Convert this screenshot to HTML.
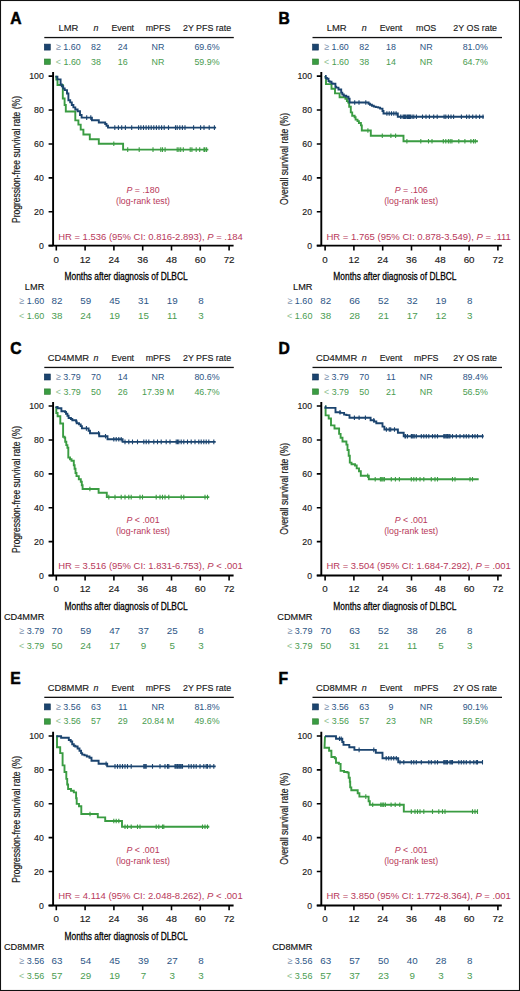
<!DOCTYPE html>
<html><head><meta charset="utf-8"><style>
html,body{margin:0;padding:0;background:#fff;}
svg{display:block;font-family:"Liberation Sans", sans-serif;}
</style></head><body>
<svg width="520" height="991" viewBox="0 0 520 991">
<rect x="0" y="0" width="520" height="991" fill="#fff"/>
<g transform="translate(0.00,0.00)">
<text transform="translate(10.30,23.90) scale(0.9,1)" font-size="17.4" fill="#000" font-weight="bold" stroke="#000" stroke-width="0.55">A</text>
<text transform="translate(68.40,31.10) scale(0.97,1)" font-size="9.7" fill="#1a1a1a" text-anchor="middle" stroke="#1a1a1a" stroke-width="0.15">LMR</text>
<text transform="translate(96.00,31.10) scale(0.915,1)" font-size="9.7" fill="#1a1a1a" text-anchor="middle" font-style="italic" stroke="#1a1a1a" stroke-width="0.15">n</text>
<text transform="translate(122.75,31.10) scale(0.915,1)" font-size="9.7" fill="#1a1a1a" text-anchor="middle" stroke="#1a1a1a" stroke-width="0.15">Event</text>
<text transform="translate(158.00,31.10) scale(0.915,1)" font-size="9.7" fill="#1a1a1a" text-anchor="middle" stroke="#1a1a1a" stroke-width="0.15">mPFS</text>
<text transform="translate(207.00,31.10) scale(0.915,1)" font-size="9.7" fill="#1a1a1a" text-anchor="middle" stroke="#1a1a1a" stroke-width="0.15">2Y PFS rate</text>
<rect x="44.3" y="36.9" width="189.5" height="1.3" fill="#111"/>
<rect x="44.3" y="44.1" width="6.0" height="6.0" fill="#1b446f" stroke="#123456" stroke-width="0.6"/>
<text transform="translate(68.30,50.00) scale(0.915,1)" font-size="9.7" fill="#2c5585" text-anchor="middle"><tspan fill="#7f95b0">≥</tspan> 1.60</text>
<text transform="translate(96.00,50.00) scale(0.915,1)" font-size="9.7" fill="#2c5585" text-anchor="middle">82</text>
<text transform="translate(122.75,50.00) scale(0.915,1)" font-size="9.7" fill="#2c5585" text-anchor="middle">24</text>
<text transform="translate(158.00,50.00) scale(0.915,1)" font-size="9.7" fill="#2c5585" text-anchor="middle">NR</text>
<text transform="translate(207.00,50.00) scale(0.915,1)" font-size="9.7" fill="#2c5585" text-anchor="middle">69.6%</text>
<rect x="44.3" y="59.0" width="6.0" height="5.4" fill="#3a9c42" stroke="#2c7a30" stroke-width="0.6"/>
<text transform="translate(68.30,64.60) scale(0.915,1)" font-size="9.7" fill="#4a9c50" text-anchor="middle"><tspan fill="#8fbf92">&lt;</tspan> 1.60</text>
<text transform="translate(96.00,64.60) scale(0.915,1)" font-size="9.7" fill="#4a9c50" text-anchor="middle">38</text>
<text transform="translate(122.75,64.60) scale(0.915,1)" font-size="9.7" fill="#4a9c50" text-anchor="middle">16</text>
<text transform="translate(158.00,64.60) scale(0.915,1)" font-size="9.7" fill="#4a9c50" text-anchor="middle">NR</text>
<text transform="translate(207.00,64.60) scale(0.915,1)" font-size="9.7" fill="#4a9c50" text-anchor="middle">59.9%</text>
<path d="M53.1 72 V246.6 M48.6 245.65 H233.6" stroke="#000" stroke-width="1.9" fill="none"/>
<text transform="translate(43.80,248.85) scale(0.97,1)" font-size="9.0" fill="#1a1a1a" text-anchor="end" stroke="#1a1a1a" stroke-width="0.15">0</text>
<text transform="translate(43.80,214.95) scale(0.97,1)" font-size="9.0" fill="#1a1a1a" text-anchor="end" stroke="#1a1a1a" stroke-width="0.15">20</text>
<text transform="translate(43.80,181.05) scale(0.97,1)" font-size="9.0" fill="#1a1a1a" text-anchor="end" stroke="#1a1a1a" stroke-width="0.15">40</text>
<text transform="translate(43.80,147.15) scale(0.97,1)" font-size="9.0" fill="#1a1a1a" text-anchor="end" stroke="#1a1a1a" stroke-width="0.15">60</text>
<text transform="translate(43.80,113.25) scale(0.97,1)" font-size="9.0" fill="#1a1a1a" text-anchor="end" stroke="#1a1a1a" stroke-width="0.15">80</text>
<text transform="translate(43.80,79.35) scale(0.97,1)" font-size="9.0" fill="#1a1a1a" text-anchor="end" stroke="#1a1a1a" stroke-width="0.15">100</text>
<text x="56.30" y="262.60" font-size="9.8" fill="#1a1a1a" text-anchor="middle" stroke="#1a1a1a" stroke-width="0.15">0</text>
<text x="85.10" y="262.60" font-size="9.8" fill="#1a1a1a" text-anchor="middle" stroke="#1a1a1a" stroke-width="0.15">12</text>
<text x="113.90" y="262.60" font-size="9.8" fill="#1a1a1a" text-anchor="middle" stroke="#1a1a1a" stroke-width="0.15">24</text>
<text x="142.70" y="262.60" font-size="9.8" fill="#1a1a1a" text-anchor="middle" stroke="#1a1a1a" stroke-width="0.15">36</text>
<text x="171.50" y="262.60" font-size="9.8" fill="#1a1a1a" text-anchor="middle" stroke="#1a1a1a" stroke-width="0.15">48</text>
<text x="200.30" y="262.60" font-size="9.8" fill="#1a1a1a" text-anchor="middle" stroke="#1a1a1a" stroke-width="0.15">60</text>
<text x="229.10" y="262.60" font-size="9.8" fill="#1a1a1a" text-anchor="middle" stroke="#1a1a1a" stroke-width="0.15">72</text>
<path d="M48.6 245.65 H53.1 M48.6 211.75 H53.1 M48.6 177.85 H53.1 M48.6 143.95 H53.1 M48.6 110.05 H53.1 M48.6 76.15 H53.1 M56.30 245.7 V250.5 M85.10 245.7 V250.5 M113.90 245.7 V250.5 M142.70 245.7 V250.5 M171.50 245.7 V250.5 M200.30 245.7 V250.5 M229.10 245.7 V250.5" stroke="#000" stroke-width="1.6" fill="none"/>
<text transform="translate(19.6,159.5) rotate(-90)" font-size="10.8" text-anchor="middle" textLength="127" lengthAdjust="spacingAndGlyphs" fill="#1a1a1a" stroke="#1a1a1a" stroke-width="0.2">Progression-free survival rate (%)</text>
<text x="64.5" y="280.1" font-size="11.8" textLength="123.2" lengthAdjust="spacingAndGlyphs" fill="#000" stroke="#000" stroke-width="0.3">Months after diagnosis of DLBCL</text>
<polyline transform="translate(0,0.0)" points="56.30,75.70 56.30,79.50 57.50,79.50 57.50,85.00 62.80,85.00 62.80,98.50 64.60,98.50 64.60,105.00 65.80,105.00 65.80,111.50 75.30,111.50 75.30,120.40 78.40,120.40 78.40,124.60 80.70,124.60 80.70,129.60 83.40,129.60 83.40,134.50 89.80,134.50 89.80,139.20 98.80,139.20 98.80,143.80 123.10,143.80 123.10,149.60 208.30,149.60" fill="none" stroke="#3a9c42" stroke-width="1.9" stroke-linejoin="miter"/>
<path d="M113.8 141.5v4.6 M127.7 147.3v4.6 M139.2 147.3v4.6 M153.0 147.3v4.6 M160.8 147.3v4.6 M162.5 147.3v4.6 M165.1 147.3v4.6 M177.2 147.3v4.6 M178.9 147.3v4.6 M180.7 147.3v4.6 M183.3 147.3v4.6 M190.2 147.3v4.6 M191.9 147.3v4.6 M196.2 147.3v4.6 M199.7 147.3v4.6 M204.0 147.3v4.6 M204.9 147.3v4.6 M206.6 147.3v4.6" stroke="#3a9c42" stroke-width="1.1"/>
<polyline transform="translate(0,0.0)" points="56.30,75.70 56.30,76.60 57.40,76.60 57.40,79.40 60.60,79.40 60.60,84.50 61.80,84.50 61.80,86.20 63.20,86.20 63.20,88.50 64.70,88.50 64.70,90.10 67.00,90.10 67.00,93.50 68.40,93.50 68.40,100.20 70.20,100.20 70.20,102.40 71.80,102.40 71.80,105.00 73.40,105.00 73.40,107.40 75.30,107.40 75.30,109.50 77.60,109.50 77.60,111.30 80.00,111.30 80.00,115.00 81.60,115.00 81.60,117.60 91.90,117.60 91.90,120.20 98.80,120.20 98.80,122.50 105.20,122.50 105.20,124.00 106.50,124.00 106.50,125.70 108.00,125.70 108.00,127.60 216.10,127.60" fill="none" stroke="#1b446f" stroke-width="1.9" stroke-linejoin="miter"/>
<path d="M86.7 115.3v4.6 M90.8 115.3v4.6 M114.8 125.3v4.6 M118.4 125.3v4.6 M121.7 125.3v4.6 M125.4 125.3v4.6 M131.7 125.3v4.6 M138.6 125.3v4.6 M140.9 125.3v4.6 M143.5 125.3v4.6 M146.1 125.3v4.6 M148.7 125.3v4.6 M151.2 125.3v4.6 M153.8 125.3v4.6 M156.4 125.3v4.6 M159.0 125.3v4.6 M161.6 125.3v4.6 M164.2 125.3v4.6 M168.5 125.3v4.6 M175.5 125.3v4.6 M177.2 125.3v4.6 M179.8 125.3v4.6 M182.4 125.3v4.6 M185.0 125.3v4.6 M193.6 125.3v4.6 M200.6 125.3v4.6 M204.0 125.3v4.6 M209.2 125.3v4.6 M214.4 125.3v4.6" stroke="#1b446f" stroke-width="1.1"/>
<text transform="translate(143.0,193.0) scale(0.95,1)" font-size="9.3" text-anchor="middle" fill="#b8385a"><tspan font-style="italic">P</tspan> = .180</text>
<text transform="translate(143.00,204.00) scale(0.975,1)" font-size="9.0" fill="#b8385a" text-anchor="middle">(log-rank test)</text>
<text x="58.2" y="239.5" font-size="9.3" textLength="184.5" lengthAdjust="spacingAndGlyphs" fill="#b8385a">HR = 1.536 (95% CI: 0.816-2.893), <tspan font-style="italic">P</tspan> = .184</text>
<text transform="translate(44.30,289.80) scale(0.93,1)" font-size="9.9" fill="#111" text-anchor="end" stroke="#111" stroke-width="0.15">LMR</text>
<text transform="translate(44.20,304.40) scale(0.95,1)" font-size="9.5" fill="#2c5585" text-anchor="end"><tspan fill="#7f95b0">≥</tspan> 1.60</text>
<text x="57.00" y="304.40" font-size="9.8" fill="#2c5585" text-anchor="middle">82</text>
<text x="85.80" y="304.40" font-size="9.8" fill="#2c5585" text-anchor="middle">59</text>
<text x="114.60" y="304.40" font-size="9.8" fill="#2c5585" text-anchor="middle">45</text>
<text x="143.40" y="304.40" font-size="9.8" fill="#2c5585" text-anchor="middle">31</text>
<text x="172.20" y="304.40" font-size="9.8" fill="#2c5585" text-anchor="middle">19</text>
<text x="201.00" y="304.40" font-size="9.8" fill="#2c5585" text-anchor="middle">8</text>
<text transform="translate(44.20,319.10) scale(0.95,1)" font-size="9.5" fill="#4a9c50" text-anchor="end"><tspan fill="#8fbf92">&lt;</tspan> 1.60</text>
<text x="57.00" y="319.10" font-size="9.8" fill="#4a9c50" text-anchor="middle">38</text>
<text x="85.80" y="319.10" font-size="9.8" fill="#4a9c50" text-anchor="middle">24</text>
<text x="114.60" y="319.10" font-size="9.8" fill="#4a9c50" text-anchor="middle">19</text>
<text x="143.40" y="319.10" font-size="9.8" fill="#4a9c50" text-anchor="middle">15</text>
<text x="172.20" y="319.10" font-size="9.8" fill="#4a9c50" text-anchor="middle">11</text>
<text x="201.00" y="319.10" font-size="9.8" fill="#4a9c50" text-anchor="middle">3</text>
</g>
<g transform="translate(268.20,0.00)">
<text transform="translate(10.30,23.90) scale(0.9,1)" font-size="17.4" fill="#000" font-weight="bold" stroke="#000" stroke-width="0.55">B</text>
<text transform="translate(68.40,31.10) scale(0.97,1)" font-size="9.7" fill="#1a1a1a" text-anchor="middle" stroke="#1a1a1a" stroke-width="0.15">LMR</text>
<text transform="translate(96.00,31.10) scale(0.915,1)" font-size="9.7" fill="#1a1a1a" text-anchor="middle" font-style="italic" stroke="#1a1a1a" stroke-width="0.15">n</text>
<text transform="translate(122.75,31.10) scale(0.915,1)" font-size="9.7" fill="#1a1a1a" text-anchor="middle" stroke="#1a1a1a" stroke-width="0.15">Event</text>
<text transform="translate(158.00,31.10) scale(0.915,1)" font-size="9.7" fill="#1a1a1a" text-anchor="middle" stroke="#1a1a1a" stroke-width="0.15">mOS</text>
<text transform="translate(207.00,31.10) scale(0.915,1)" font-size="9.7" fill="#1a1a1a" text-anchor="middle" stroke="#1a1a1a" stroke-width="0.15">2Y OS rate</text>
<rect x="44.3" y="36.9" width="189.5" height="1.3" fill="#111"/>
<rect x="44.3" y="44.1" width="6.0" height="6.0" fill="#1b446f" stroke="#123456" stroke-width="0.6"/>
<text transform="translate(68.30,50.00) scale(0.915,1)" font-size="9.7" fill="#2c5585" text-anchor="middle"><tspan fill="#7f95b0">≥</tspan> 1.60</text>
<text transform="translate(96.00,50.00) scale(0.915,1)" font-size="9.7" fill="#2c5585" text-anchor="middle">82</text>
<text transform="translate(122.75,50.00) scale(0.915,1)" font-size="9.7" fill="#2c5585" text-anchor="middle">18</text>
<text transform="translate(158.00,50.00) scale(0.915,1)" font-size="9.7" fill="#2c5585" text-anchor="middle">NR</text>
<text transform="translate(207.00,50.00) scale(0.915,1)" font-size="9.7" fill="#2c5585" text-anchor="middle">81.0%</text>
<rect x="44.3" y="59.0" width="6.0" height="5.4" fill="#3a9c42" stroke="#2c7a30" stroke-width="0.6"/>
<text transform="translate(68.30,64.60) scale(0.915,1)" font-size="9.7" fill="#4a9c50" text-anchor="middle"><tspan fill="#8fbf92">&lt;</tspan> 1.60</text>
<text transform="translate(96.00,64.60) scale(0.915,1)" font-size="9.7" fill="#4a9c50" text-anchor="middle">38</text>
<text transform="translate(122.75,64.60) scale(0.915,1)" font-size="9.7" fill="#4a9c50" text-anchor="middle">14</text>
<text transform="translate(158.00,64.60) scale(0.915,1)" font-size="9.7" fill="#4a9c50" text-anchor="middle">NR</text>
<text transform="translate(207.00,64.60) scale(0.915,1)" font-size="9.7" fill="#4a9c50" text-anchor="middle">64.7%</text>
<path d="M53.1 72 V246.6 M48.6 245.65 H233.6" stroke="#000" stroke-width="1.9" fill="none"/>
<text transform="translate(43.80,248.85) scale(0.97,1)" font-size="9.0" fill="#1a1a1a" text-anchor="end" stroke="#1a1a1a" stroke-width="0.15">0</text>
<text transform="translate(43.80,214.95) scale(0.97,1)" font-size="9.0" fill="#1a1a1a" text-anchor="end" stroke="#1a1a1a" stroke-width="0.15">20</text>
<text transform="translate(43.80,181.05) scale(0.97,1)" font-size="9.0" fill="#1a1a1a" text-anchor="end" stroke="#1a1a1a" stroke-width="0.15">40</text>
<text transform="translate(43.80,147.15) scale(0.97,1)" font-size="9.0" fill="#1a1a1a" text-anchor="end" stroke="#1a1a1a" stroke-width="0.15">60</text>
<text transform="translate(43.80,113.25) scale(0.97,1)" font-size="9.0" fill="#1a1a1a" text-anchor="end" stroke="#1a1a1a" stroke-width="0.15">80</text>
<text transform="translate(43.80,79.35) scale(0.97,1)" font-size="9.0" fill="#1a1a1a" text-anchor="end" stroke="#1a1a1a" stroke-width="0.15">100</text>
<text x="56.90" y="262.60" font-size="9.8" fill="#1a1a1a" text-anchor="middle" stroke="#1a1a1a" stroke-width="0.15">0</text>
<text x="85.70" y="262.60" font-size="9.8" fill="#1a1a1a" text-anchor="middle" stroke="#1a1a1a" stroke-width="0.15">12</text>
<text x="114.50" y="262.60" font-size="9.8" fill="#1a1a1a" text-anchor="middle" stroke="#1a1a1a" stroke-width="0.15">24</text>
<text x="143.30" y="262.60" font-size="9.8" fill="#1a1a1a" text-anchor="middle" stroke="#1a1a1a" stroke-width="0.15">36</text>
<text x="172.10" y="262.60" font-size="9.8" fill="#1a1a1a" text-anchor="middle" stroke="#1a1a1a" stroke-width="0.15">48</text>
<text x="200.90" y="262.60" font-size="9.8" fill="#1a1a1a" text-anchor="middle" stroke="#1a1a1a" stroke-width="0.15">60</text>
<text x="229.70" y="262.60" font-size="9.8" fill="#1a1a1a" text-anchor="middle" stroke="#1a1a1a" stroke-width="0.15">72</text>
<path d="M48.6 245.65 H53.1 M48.6 211.75 H53.1 M48.6 177.85 H53.1 M48.6 143.95 H53.1 M48.6 110.05 H53.1 M48.6 76.15 H53.1 M56.90 245.7 V250.5 M85.70 245.7 V250.5 M114.50 245.7 V250.5 M143.30 245.7 V250.5 M172.10 245.7 V250.5 M200.90 245.7 V250.5 M229.70 245.7 V250.5" stroke="#000" stroke-width="1.6" fill="none"/>
<text transform="translate(20.0,158.9) rotate(-90)" font-size="10.8" text-anchor="middle" textLength="92" lengthAdjust="spacingAndGlyphs" fill="#1a1a1a" stroke="#1a1a1a" stroke-width="0.2">Overall survival rate (%)</text>
<text x="65.1" y="280.1" font-size="11.8" textLength="123.2" lengthAdjust="spacingAndGlyphs" fill="#000" stroke="#000" stroke-width="0.3">Months after diagnosis of DLBCL</text>
<polyline transform="translate(0,0.3)" points="56.80,75.70 57.80,77.70 57.80,83.80 63.30,83.80 63.30,88.50 66.80,88.50 66.80,93.10 71.40,93.10 71.40,96.90 77.20,96.90 77.20,98.50 78.70,98.50 78.70,100.80 80.00,100.80 80.00,102.30 81.00,102.30 81.00,106.50 82.60,106.50 82.60,112.10 84.00,112.10 84.00,115.50 86.40,115.50 86.40,117.00 87.40,117.00 87.40,119.30 89.30,119.30 89.30,120.80 90.70,120.80 90.70,122.70 92.70,122.70 92.70,125.10 93.60,125.10 93.60,130.20 102.60,130.20 102.60,135.40 135.30,135.40 135.30,141.00 209.70,141.00" fill="none" stroke="#3a9c42" stroke-width="1.9" stroke-linejoin="miter"/>
<path d="M99.7 128.2v4.6 M114.1 133.4v4.6 M122.7 133.4v4.6 M127.4 133.4v4.6 M138.7 139.0v4.6 M152.6 139.0v4.6 M160.3 139.0v4.6 M163.8 139.0v4.6 M175.1 139.0v4.6 M177.6 139.0v4.6 M180.2 139.0v4.6 M182.0 139.0v4.6 M183.7 139.0v4.6 M190.6 139.0v4.6 M196.7 139.0v4.6 M202.7 139.0v4.6 M205.3 139.0v4.6 M207.1 139.0v4.6" stroke="#3a9c42" stroke-width="1.1"/>
<polyline transform="translate(0,0.3)" points="56.80,75.70 57.50,75.70 57.50,77.70 58.70,77.70 58.70,78.50 60.30,78.50 60.30,80.80 61.40,80.80 61.40,81.50 63.30,81.50 63.30,83.10 64.50,83.10 64.50,83.50 67.20,83.50 67.20,86.50 68.00,86.50 68.00,87.30 70.30,87.30 70.30,89.20 73.00,89.20 73.00,92.30 74.10,92.30 74.10,94.20 75.60,94.20 75.60,95.40 78.00,95.40 78.00,96.50 80.30,96.50 80.30,98.50 81.40,98.50 81.40,102.20 100.40,102.20 100.40,103.50 101.80,103.50 101.80,104.40 103.70,104.40 103.70,105.40 105.60,105.40 105.60,106.30 107.60,106.30 107.60,106.80 110.00,106.80 110.00,107.30 111.90,107.30 111.90,108.30 114.30,108.30 114.30,110.70 115.30,110.70 115.30,113.20 129.60,113.20 129.60,116.40 215.70,116.40" fill="none" stroke="#1b446f" stroke-width="1.9" stroke-linejoin="miter"/>
<path d="M86.5 100.2v4.6 M90.8 100.2v4.6 M97.6 100.2v4.6 M118.7 111.2v4.6 M121.0 111.2v4.6 M123.3 111.2v4.6 M125.6 111.2v4.6 M127.9 111.2v4.6 M132.5 114.4v4.6 M134.9 114.4v4.6 M137.2 114.4v4.6 M139.5 114.4v4.6 M141.2 114.4v4.6 M132.7 114.4v4.6 M136.1 114.4v4.6 M138.7 114.4v4.6 M140.5 114.4v4.6 M142.2 114.4v4.6 M143.9 114.4v4.6 M145.6 114.4v4.6 M148.2 114.4v4.6 M154.3 114.4v4.6 M157.8 114.4v4.6 M161.2 114.4v4.6 M165.5 114.4v4.6 M169.0 114.4v4.6 M175.9 114.4v4.6 M177.6 114.4v4.6 M180.2 114.4v4.6 M182.8 114.4v4.6 M185.4 114.4v4.6 M193.2 114.4v4.6 M198.4 114.4v4.6 M201.0 114.4v4.6 M204.5 114.4v4.6 M207.9 114.4v4.6 M211.4 114.4v4.6 M214.8 114.4v4.6" stroke="#1b446f" stroke-width="1.1"/>
<text transform="translate(143.0,193.0) scale(0.95,1)" font-size="9.3" text-anchor="middle" fill="#b8385a"><tspan font-style="italic">P</tspan> = .106</text>
<text transform="translate(143.00,204.00) scale(0.975,1)" font-size="9.0" fill="#b8385a" text-anchor="middle">(log-rank test)</text>
<text x="58.2" y="239.5" font-size="9.3" textLength="184.5" lengthAdjust="spacingAndGlyphs" fill="#b8385a">HR = 1.765 (95% CI: 0.878-3.549), <tspan font-style="italic">P</tspan> = .111</text>
<text transform="translate(44.30,289.80) scale(0.93,1)" font-size="9.9" fill="#111" text-anchor="end" stroke="#111" stroke-width="0.15">LMR</text>
<text transform="translate(44.20,304.40) scale(0.95,1)" font-size="9.5" fill="#2c5585" text-anchor="end"><tspan fill="#7f95b0">≥</tspan> 1.60</text>
<text x="57.60" y="304.40" font-size="9.8" fill="#2c5585" text-anchor="middle">82</text>
<text x="86.40" y="304.40" font-size="9.8" fill="#2c5585" text-anchor="middle">66</text>
<text x="115.20" y="304.40" font-size="9.8" fill="#2c5585" text-anchor="middle">52</text>
<text x="144.00" y="304.40" font-size="9.8" fill="#2c5585" text-anchor="middle">32</text>
<text x="172.80" y="304.40" font-size="9.8" fill="#2c5585" text-anchor="middle">19</text>
<text x="201.60" y="304.40" font-size="9.8" fill="#2c5585" text-anchor="middle">8</text>
<text transform="translate(44.20,319.10) scale(0.95,1)" font-size="9.5" fill="#4a9c50" text-anchor="end"><tspan fill="#8fbf92">&lt;</tspan> 1.60</text>
<text x="57.60" y="319.10" font-size="9.8" fill="#4a9c50" text-anchor="middle">38</text>
<text x="86.40" y="319.10" font-size="9.8" fill="#4a9c50" text-anchor="middle">28</text>
<text x="115.20" y="319.10" font-size="9.8" fill="#4a9c50" text-anchor="middle">21</text>
<text x="144.00" y="319.10" font-size="9.8" fill="#4a9c50" text-anchor="middle">17</text>
<text x="172.80" y="319.10" font-size="9.8" fill="#4a9c50" text-anchor="middle">12</text>
<text x="201.60" y="319.10" font-size="9.8" fill="#4a9c50" text-anchor="middle">3</text>
</g>
<g transform="translate(0.00,329.90)">
<text transform="translate(10.30,23.90) scale(0.9,1)" font-size="17.4" fill="#000" font-weight="bold" stroke="#000" stroke-width="0.55">C</text>
<text transform="translate(68.40,31.10) scale(0.97,1)" font-size="9.7" fill="#1a1a1a" text-anchor="middle" stroke="#1a1a1a" stroke-width="0.15">CD4MMR</text>
<text transform="translate(96.00,31.10) scale(0.915,1)" font-size="9.7" fill="#1a1a1a" text-anchor="middle" font-style="italic" stroke="#1a1a1a" stroke-width="0.15">n</text>
<text transform="translate(122.75,31.10) scale(0.915,1)" font-size="9.7" fill="#1a1a1a" text-anchor="middle" stroke="#1a1a1a" stroke-width="0.15">Event</text>
<text transform="translate(158.00,31.10) scale(0.915,1)" font-size="9.7" fill="#1a1a1a" text-anchor="middle" stroke="#1a1a1a" stroke-width="0.15">mPFS</text>
<text transform="translate(207.00,31.10) scale(0.915,1)" font-size="9.7" fill="#1a1a1a" text-anchor="middle" stroke="#1a1a1a" stroke-width="0.15">2Y PFS rate</text>
<rect x="44.3" y="36.9" width="189.5" height="1.3" fill="#111"/>
<rect x="44.3" y="44.1" width="6.0" height="6.0" fill="#1b446f" stroke="#123456" stroke-width="0.6"/>
<text transform="translate(68.30,50.00) scale(0.915,1)" font-size="9.7" fill="#2c5585" text-anchor="middle"><tspan fill="#7f95b0">≥</tspan> 3.79</text>
<text transform="translate(96.00,50.00) scale(0.915,1)" font-size="9.7" fill="#2c5585" text-anchor="middle">70</text>
<text transform="translate(122.75,50.00) scale(0.915,1)" font-size="9.7" fill="#2c5585" text-anchor="middle">14</text>
<text transform="translate(158.00,50.00) scale(0.915,1)" font-size="9.7" fill="#2c5585" text-anchor="middle">NR</text>
<text transform="translate(207.00,50.00) scale(0.915,1)" font-size="9.7" fill="#2c5585" text-anchor="middle">80.6%</text>
<rect x="44.3" y="59.0" width="6.0" height="5.4" fill="#3a9c42" stroke="#2c7a30" stroke-width="0.6"/>
<text transform="translate(68.30,64.60) scale(0.915,1)" font-size="9.7" fill="#4a9c50" text-anchor="middle"><tspan fill="#8fbf92">&lt;</tspan> 3.79</text>
<text transform="translate(96.00,64.60) scale(0.915,1)" font-size="9.7" fill="#4a9c50" text-anchor="middle">50</text>
<text transform="translate(122.75,64.60) scale(0.915,1)" font-size="9.7" fill="#4a9c50" text-anchor="middle">26</text>
<text transform="translate(158.00,64.60) scale(0.915,1)" font-size="9.7" fill="#4a9c50" text-anchor="middle">17.39 M</text>
<text transform="translate(207.00,64.60) scale(0.915,1)" font-size="9.7" fill="#4a9c50" text-anchor="middle">46.7%</text>
<path d="M53.1 72 V246.6 M48.6 245.65 H233.6" stroke="#000" stroke-width="1.9" fill="none"/>
<text transform="translate(43.80,248.85) scale(0.97,1)" font-size="9.0" fill="#1a1a1a" text-anchor="end" stroke="#1a1a1a" stroke-width="0.15">0</text>
<text transform="translate(43.80,214.95) scale(0.97,1)" font-size="9.0" fill="#1a1a1a" text-anchor="end" stroke="#1a1a1a" stroke-width="0.15">20</text>
<text transform="translate(43.80,181.05) scale(0.97,1)" font-size="9.0" fill="#1a1a1a" text-anchor="end" stroke="#1a1a1a" stroke-width="0.15">40</text>
<text transform="translate(43.80,147.15) scale(0.97,1)" font-size="9.0" fill="#1a1a1a" text-anchor="end" stroke="#1a1a1a" stroke-width="0.15">60</text>
<text transform="translate(43.80,113.25) scale(0.97,1)" font-size="9.0" fill="#1a1a1a" text-anchor="end" stroke="#1a1a1a" stroke-width="0.15">80</text>
<text transform="translate(43.80,79.35) scale(0.97,1)" font-size="9.0" fill="#1a1a1a" text-anchor="end" stroke="#1a1a1a" stroke-width="0.15">100</text>
<text x="56.30" y="262.60" font-size="9.8" fill="#1a1a1a" text-anchor="middle" stroke="#1a1a1a" stroke-width="0.15">0</text>
<text x="85.10" y="262.60" font-size="9.8" fill="#1a1a1a" text-anchor="middle" stroke="#1a1a1a" stroke-width="0.15">12</text>
<text x="113.90" y="262.60" font-size="9.8" fill="#1a1a1a" text-anchor="middle" stroke="#1a1a1a" stroke-width="0.15">24</text>
<text x="142.70" y="262.60" font-size="9.8" fill="#1a1a1a" text-anchor="middle" stroke="#1a1a1a" stroke-width="0.15">36</text>
<text x="171.50" y="262.60" font-size="9.8" fill="#1a1a1a" text-anchor="middle" stroke="#1a1a1a" stroke-width="0.15">48</text>
<text x="200.30" y="262.60" font-size="9.8" fill="#1a1a1a" text-anchor="middle" stroke="#1a1a1a" stroke-width="0.15">60</text>
<text x="229.10" y="262.60" font-size="9.8" fill="#1a1a1a" text-anchor="middle" stroke="#1a1a1a" stroke-width="0.15">72</text>
<path d="M48.6 245.65 H53.1 M48.6 211.75 H53.1 M48.6 177.85 H53.1 M48.6 143.95 H53.1 M48.6 110.05 H53.1 M48.6 76.15 H53.1 M56.30 245.7 V250.5 M85.10 245.7 V250.5 M113.90 245.7 V250.5 M142.70 245.7 V250.5 M171.50 245.7 V250.5 M200.30 245.7 V250.5 M229.10 245.7 V250.5" stroke="#000" stroke-width="1.6" fill="none"/>
<text transform="translate(19.6,159.5) rotate(-90)" font-size="10.8" text-anchor="middle" textLength="127" lengthAdjust="spacingAndGlyphs" fill="#1a1a1a" stroke="#1a1a1a" stroke-width="0.2">Progression-free survival rate (%)</text>
<text x="64.5" y="280.1" font-size="11.8" textLength="123.2" lengthAdjust="spacingAndGlyphs" fill="#000" stroke="#000" stroke-width="0.3">Months after diagnosis of DLBCL</text>
<polyline transform="translate(0,0.8)" points="56.30,75.70 56.30,82.30 57.60,82.30 57.60,85.60 60.30,85.60 60.30,92.80 63.10,92.80 63.10,106.10 64.50,106.10 64.50,107.00 65.20,107.00 65.20,111.00 66.30,111.00 66.30,114.40 67.40,114.40 67.40,117.00 68.30,117.00 68.30,126.80 70.00,126.80 70.00,128.50 71.50,128.50 71.50,130.00 73.80,130.00 73.80,134.60 74.60,134.60 74.60,138.00 75.50,138.00 75.50,142.30 76.50,142.30 76.50,145.40 78.80,145.40 78.80,148.50 80.80,148.50 80.80,151.00 81.80,151.00 81.80,154.60 82.60,154.60 82.60,158.30 98.60,158.30 98.60,162.00 106.80,162.00 106.80,166.40 209.30,166.40" fill="none" stroke="#3a9c42" stroke-width="1.9" stroke-linejoin="miter"/>
<path d="M89.9 156.8v4.6 M108.8 164.9v4.6 M115.0 164.9v4.6 M121.2 164.9v4.6 M125.0 164.9v4.6 M128.8 164.9v4.6 M131.2 164.9v4.6 M140.0 164.9v4.6 M142.5 164.9v4.6 M156.2 164.9v4.6 M160.0 164.9v4.6 M162.5 164.9v4.6 M165.0 164.9v4.6 M168.8 164.9v4.6 M181.2 164.9v4.6 M183.8 164.9v4.6 M205.0 164.9v4.6 M207.5 164.9v4.6" stroke="#3a9c42" stroke-width="1.1"/>
<polyline transform="translate(0,0.8)" points="56.30,75.70 56.30,76.30 57.60,76.30 57.60,77.50 61.40,77.50 61.40,80.50 65.10,80.50 65.10,81.30 66.00,81.30 66.00,83.00 67.40,83.00 67.40,85.00 68.60,85.00 68.60,87.30 70.90,87.30 70.90,88.30 72.30,88.30 72.30,89.60 76.10,89.60 76.10,90.80 76.70,90.80 76.70,92.50 79.00,92.50 79.00,93.70 80.70,93.70 80.70,95.40 81.90,95.40 81.90,97.70 88.60,97.70 88.60,100.00 90.00,100.00 90.00,102.50 99.20,102.50 99.20,105.60 107.50,105.60 107.50,108.60 122.60,108.60 122.60,111.20 215.70,111.20" fill="none" stroke="#1b446f" stroke-width="1.9" stroke-linejoin="miter"/>
<path d="M86.4 96.2v4.6 M98.6 101.0v4.6 M105.5 104.1v4.6 M113.8 107.1v4.6 M116.2 107.1v4.6 M118.8 107.1v4.6 M121.2 107.1v4.6 M125.0 109.7v4.6 M128.8 109.7v4.6 M132.5 109.7v4.6 M137.5 109.7v4.6 M143.8 109.7v4.6 M146.2 109.7v4.6 M148.8 109.7v4.6 M153.8 109.7v4.6 M157.5 109.7v4.6 M161.2 109.7v4.6 M166.2 109.7v4.6 M170.0 109.7v4.6 M176.2 109.7v4.6 M177.5 109.7v4.6 M178.8 109.7v4.6 M181.2 109.7v4.6 M183.8 109.7v4.6 M187.5 109.7v4.6 M191.2 109.7v4.6 M195.0 109.7v4.6 M198.8 109.7v4.6 M201.2 109.7v4.6 M203.8 109.7v4.6 M206.2 109.7v4.6 M208.8 109.7v4.6 M213.8 109.7v4.6" stroke="#1b446f" stroke-width="1.1"/>
<text transform="translate(143.0,193.0) scale(0.95,1)" font-size="9.3" text-anchor="middle" fill="#b8385a"><tspan font-style="italic">P</tspan> &lt; .001</text>
<text transform="translate(143.00,204.00) scale(0.975,1)" font-size="9.0" fill="#b8385a" text-anchor="middle">(log-rank test)</text>
<text x="58.2" y="239.5" font-size="9.3" textLength="184.5" lengthAdjust="spacingAndGlyphs" fill="#b8385a">HR = 3.516 (95% CI: 1.831-6.753), <tspan font-style="italic">P</tspan> &lt; .001</text>
<text transform="translate(44.30,289.80) scale(0.93,1)" font-size="9.9" fill="#111" text-anchor="end" stroke="#111" stroke-width="0.15">CD4MMR</text>
<text transform="translate(44.20,304.40) scale(0.95,1)" font-size="9.5" fill="#2c5585" text-anchor="end"><tspan fill="#7f95b0">≥</tspan> 3.79</text>
<text x="57.00" y="304.40" font-size="9.8" fill="#2c5585" text-anchor="middle">70</text>
<text x="85.80" y="304.40" font-size="9.8" fill="#2c5585" text-anchor="middle">59</text>
<text x="114.60" y="304.40" font-size="9.8" fill="#2c5585" text-anchor="middle">47</text>
<text x="143.40" y="304.40" font-size="9.8" fill="#2c5585" text-anchor="middle">37</text>
<text x="172.20" y="304.40" font-size="9.8" fill="#2c5585" text-anchor="middle">25</text>
<text x="201.00" y="304.40" font-size="9.8" fill="#2c5585" text-anchor="middle">8</text>
<text transform="translate(44.20,319.10) scale(0.95,1)" font-size="9.5" fill="#4a9c50" text-anchor="end"><tspan fill="#8fbf92">&lt;</tspan> 3.79</text>
<text x="57.00" y="319.10" font-size="9.8" fill="#4a9c50" text-anchor="middle">50</text>
<text x="85.80" y="319.10" font-size="9.8" fill="#4a9c50" text-anchor="middle">24</text>
<text x="114.60" y="319.10" font-size="9.8" fill="#4a9c50" text-anchor="middle">17</text>
<text x="143.40" y="319.10" font-size="9.8" fill="#4a9c50" text-anchor="middle">9</text>
<text x="172.20" y="319.10" font-size="9.8" fill="#4a9c50" text-anchor="middle">5</text>
<text x="201.00" y="319.10" font-size="9.8" fill="#4a9c50" text-anchor="middle">3</text>
</g>
<g transform="translate(268.20,329.90)">
<text transform="translate(10.30,23.90) scale(0.9,1)" font-size="17.4" fill="#000" font-weight="bold" stroke="#000" stroke-width="0.55">D</text>
<text transform="translate(68.40,31.10) scale(0.97,1)" font-size="9.7" fill="#1a1a1a" text-anchor="middle" stroke="#1a1a1a" stroke-width="0.15">CD4MMR</text>
<text transform="translate(96.00,31.10) scale(0.915,1)" font-size="9.7" fill="#1a1a1a" text-anchor="middle" font-style="italic" stroke="#1a1a1a" stroke-width="0.15">n</text>
<text transform="translate(122.75,31.10) scale(0.915,1)" font-size="9.7" fill="#1a1a1a" text-anchor="middle" stroke="#1a1a1a" stroke-width="0.15">Event</text>
<text transform="translate(158.00,31.10) scale(0.915,1)" font-size="9.7" fill="#1a1a1a" text-anchor="middle" stroke="#1a1a1a" stroke-width="0.15">mPFS</text>
<text transform="translate(207.00,31.10) scale(0.915,1)" font-size="9.7" fill="#1a1a1a" text-anchor="middle" stroke="#1a1a1a" stroke-width="0.15">2Y OS rate</text>
<rect x="44.3" y="36.9" width="189.5" height="1.3" fill="#111"/>
<rect x="44.3" y="44.1" width="6.0" height="6.0" fill="#1b446f" stroke="#123456" stroke-width="0.6"/>
<text transform="translate(68.30,50.00) scale(0.915,1)" font-size="9.7" fill="#2c5585" text-anchor="middle"><tspan fill="#7f95b0">≥</tspan> 3.79</text>
<text transform="translate(96.00,50.00) scale(0.915,1)" font-size="9.7" fill="#2c5585" text-anchor="middle">70</text>
<text transform="translate(122.75,50.00) scale(0.915,1)" font-size="9.7" fill="#2c5585" text-anchor="middle">11</text>
<text transform="translate(158.00,50.00) scale(0.915,1)" font-size="9.7" fill="#2c5585" text-anchor="middle">NR</text>
<text transform="translate(207.00,50.00) scale(0.915,1)" font-size="9.7" fill="#2c5585" text-anchor="middle">89.4%</text>
<rect x="44.3" y="59.0" width="6.0" height="5.4" fill="#3a9c42" stroke="#2c7a30" stroke-width="0.6"/>
<text transform="translate(68.30,64.60) scale(0.915,1)" font-size="9.7" fill="#4a9c50" text-anchor="middle"><tspan fill="#8fbf92">&lt;</tspan> 3.79</text>
<text transform="translate(96.00,64.60) scale(0.915,1)" font-size="9.7" fill="#4a9c50" text-anchor="middle">50</text>
<text transform="translate(122.75,64.60) scale(0.915,1)" font-size="9.7" fill="#4a9c50" text-anchor="middle">21</text>
<text transform="translate(158.00,64.60) scale(0.915,1)" font-size="9.7" fill="#4a9c50" text-anchor="middle">NR</text>
<text transform="translate(207.00,64.60) scale(0.915,1)" font-size="9.7" fill="#4a9c50" text-anchor="middle">56.5%</text>
<path d="M53.1 72 V246.6 M48.6 245.65 H233.6" stroke="#000" stroke-width="1.9" fill="none"/>
<text transform="translate(43.80,248.85) scale(0.97,1)" font-size="9.0" fill="#1a1a1a" text-anchor="end" stroke="#1a1a1a" stroke-width="0.15">0</text>
<text transform="translate(43.80,214.95) scale(0.97,1)" font-size="9.0" fill="#1a1a1a" text-anchor="end" stroke="#1a1a1a" stroke-width="0.15">20</text>
<text transform="translate(43.80,181.05) scale(0.97,1)" font-size="9.0" fill="#1a1a1a" text-anchor="end" stroke="#1a1a1a" stroke-width="0.15">40</text>
<text transform="translate(43.80,147.15) scale(0.97,1)" font-size="9.0" fill="#1a1a1a" text-anchor="end" stroke="#1a1a1a" stroke-width="0.15">60</text>
<text transform="translate(43.80,113.25) scale(0.97,1)" font-size="9.0" fill="#1a1a1a" text-anchor="end" stroke="#1a1a1a" stroke-width="0.15">80</text>
<text transform="translate(43.80,79.35) scale(0.97,1)" font-size="9.0" fill="#1a1a1a" text-anchor="end" stroke="#1a1a1a" stroke-width="0.15">100</text>
<text x="56.90" y="262.60" font-size="9.8" fill="#1a1a1a" text-anchor="middle" stroke="#1a1a1a" stroke-width="0.15">0</text>
<text x="85.70" y="262.60" font-size="9.8" fill="#1a1a1a" text-anchor="middle" stroke="#1a1a1a" stroke-width="0.15">12</text>
<text x="114.50" y="262.60" font-size="9.8" fill="#1a1a1a" text-anchor="middle" stroke="#1a1a1a" stroke-width="0.15">24</text>
<text x="143.30" y="262.60" font-size="9.8" fill="#1a1a1a" text-anchor="middle" stroke="#1a1a1a" stroke-width="0.15">36</text>
<text x="172.10" y="262.60" font-size="9.8" fill="#1a1a1a" text-anchor="middle" stroke="#1a1a1a" stroke-width="0.15">48</text>
<text x="200.90" y="262.60" font-size="9.8" fill="#1a1a1a" text-anchor="middle" stroke="#1a1a1a" stroke-width="0.15">60</text>
<text x="229.70" y="262.60" font-size="9.8" fill="#1a1a1a" text-anchor="middle" stroke="#1a1a1a" stroke-width="0.15">72</text>
<path d="M48.6 245.65 H53.1 M48.6 211.75 H53.1 M48.6 177.85 H53.1 M48.6 143.95 H53.1 M48.6 110.05 H53.1 M48.6 76.15 H53.1 M56.90 245.7 V250.5 M85.70 245.7 V250.5 M114.50 245.7 V250.5 M143.30 245.7 V250.5 M172.10 245.7 V250.5 M200.90 245.7 V250.5 M229.70 245.7 V250.5" stroke="#000" stroke-width="1.6" fill="none"/>
<text transform="translate(20.0,158.9) rotate(-90)" font-size="10.8" text-anchor="middle" textLength="92" lengthAdjust="spacingAndGlyphs" fill="#1a1a1a" stroke="#1a1a1a" stroke-width="0.2">Overall survival rate (%)</text>
<text x="65.1" y="280.1" font-size="11.8" textLength="123.2" lengthAdjust="spacingAndGlyphs" fill="#000" stroke="#000" stroke-width="0.3">Months after diagnosis of DLBCL</text>
<polyline transform="translate(0,0.8)" points="56.80,75.70 57.40,75.70 57.40,84.70 60.50,84.70 60.50,87.80 62.80,87.80 62.80,94.70 66.30,94.70 66.30,97.80 70.90,97.80 70.90,103.20 72.40,103.20 72.40,107.00 74.30,107.00 74.30,110.80 78.20,110.80 78.20,113.90 79.30,113.90 79.30,119.30 80.50,119.30 80.50,125.00 81.60,125.00 81.60,131.90 83.30,131.90 83.30,133.60 86.80,133.60 86.80,134.80 88.50,134.80 88.50,137.70 90.80,137.70 90.80,140.60 92.60,140.60 92.60,145.00 100.60,145.00 100.60,148.60 210.50,148.60" fill="none" stroke="#3a9c42" stroke-width="1.9" stroke-linejoin="miter"/>
<path d="M99.5 143.5v4.6 M107.0 147.1v4.6 M112.2 147.1v4.6 M113.5 147.1v4.6 M114.8 147.1v4.6 M116.2 147.1v4.6 M123.1 147.1v4.6 M127.2 147.1v4.6 M131.2 147.1v4.6 M143.1 147.1v4.6 M145.6 147.1v4.6 M148.1 147.1v4.6 M151.8 147.1v4.6 M155.6 147.1v4.6 M163.1 147.1v4.6 M166.8 147.1v4.6 M169.3 147.1v4.6 M184.3 147.1v4.6 M186.8 147.1v4.6 M201.8 147.1v4.6 M204.3 147.1v4.6" stroke="#3a9c42" stroke-width="1.1"/>
<polyline transform="translate(0,0.8)" points="56.80,75.70 57.20,75.70 57.20,77.20 67.30,77.20 67.30,81.60 72.00,81.60 72.00,82.20 75.90,82.20 75.90,83.90 78.20,83.90 78.20,84.40 81.30,84.40 81.30,87.00 102.40,87.00 102.40,89.60 105.90,89.60 105.90,90.80 108.10,90.80 108.10,92.50 114.30,92.50 114.30,95.90 116.20,95.90 116.20,98.80 129.70,98.80 129.70,102.10 135.50,102.10 135.50,105.60 215.50,105.60" fill="none" stroke="#1b446f" stroke-width="1.9" stroke-linejoin="miter"/>
<path d="M71.8 80.1v4.6 M86.2 85.5v4.6 M90.9 85.5v4.6 M97.2 85.5v4.6 M105.6 88.1v4.6 M118.2 97.3v4.6 M121.1 97.3v4.6 M122.5 97.3v4.6 M126.3 97.3v4.6 M137.4 104.1v4.6 M144.1 104.1v4.6 M146.0 104.1v4.6 M148.0 104.1v4.6 M136.8 104.1v4.6 M139.3 104.1v4.6 M143.1 104.1v4.6 M145.6 104.1v4.6 M148.1 104.1v4.6 M153.1 104.1v4.6 M155.6 104.1v4.6 M158.1 104.1v4.6 M160.6 104.1v4.6 M164.3 104.1v4.6 M166.8 104.1v4.6 M169.3 104.1v4.6 M175.6 104.1v4.6 M176.8 104.1v4.6 M178.1 104.1v4.6 M179.3 104.1v4.6 M180.6 104.1v4.6 M181.8 104.1v4.6 M184.3 104.1v4.6 M188.1 104.1v4.6 M191.8 104.1v4.6 M195.6 104.1v4.6 M198.1 104.1v4.6 M200.6 104.1v4.6 M204.3 104.1v4.6 M206.8 104.1v4.6 M209.3 104.1v4.6 M214.3 104.1v4.6" stroke="#1b446f" stroke-width="1.1"/>
<text transform="translate(143.0,193.0) scale(0.95,1)" font-size="9.3" text-anchor="middle" fill="#b8385a"><tspan font-style="italic">P</tspan> &lt; .001</text>
<text transform="translate(143.00,204.00) scale(0.975,1)" font-size="9.0" fill="#b8385a" text-anchor="middle">(log-rank test)</text>
<text x="58.2" y="239.5" font-size="9.3" textLength="184.5" lengthAdjust="spacingAndGlyphs" fill="#b8385a">HR = 3.504 (95% CI: 1.684-7.292), <tspan font-style="italic">P</tspan> = .001</text>
<text transform="translate(44.30,289.80) scale(0.93,1)" font-size="9.9" fill="#111" text-anchor="end" stroke="#111" stroke-width="0.15">CDMMR</text>
<text transform="translate(44.20,304.40) scale(0.95,1)" font-size="9.5" fill="#2c5585" text-anchor="end"><tspan fill="#7f95b0">≥</tspan> 3.79</text>
<text x="57.60" y="304.40" font-size="9.8" fill="#2c5585" text-anchor="middle">70</text>
<text x="86.40" y="304.40" font-size="9.8" fill="#2c5585" text-anchor="middle">63</text>
<text x="115.20" y="304.40" font-size="9.8" fill="#2c5585" text-anchor="middle">52</text>
<text x="144.00" y="304.40" font-size="9.8" fill="#2c5585" text-anchor="middle">38</text>
<text x="172.80" y="304.40" font-size="9.8" fill="#2c5585" text-anchor="middle">26</text>
<text x="201.60" y="304.40" font-size="9.8" fill="#2c5585" text-anchor="middle">8</text>
<text transform="translate(44.20,319.10) scale(0.95,1)" font-size="9.5" fill="#4a9c50" text-anchor="end"><tspan fill="#8fbf92">&lt;</tspan> 3.79</text>
<text x="57.60" y="319.10" font-size="9.8" fill="#4a9c50" text-anchor="middle">50</text>
<text x="86.40" y="319.10" font-size="9.8" fill="#4a9c50" text-anchor="middle">31</text>
<text x="115.20" y="319.10" font-size="9.8" fill="#4a9c50" text-anchor="middle">21</text>
<text x="144.00" y="319.10" font-size="9.8" fill="#4a9c50" text-anchor="middle">11</text>
<text x="172.80" y="319.10" font-size="9.8" fill="#4a9c50" text-anchor="middle">5</text>
<text x="201.60" y="319.10" font-size="9.8" fill="#4a9c50" text-anchor="middle">3</text>
</g>
<g transform="translate(0.00,659.80)">
<text transform="translate(10.30,23.90) scale(0.9,1)" font-size="17.4" fill="#000" font-weight="bold" stroke="#000" stroke-width="0.55">E</text>
<text transform="translate(68.40,31.10) scale(0.97,1)" font-size="9.7" fill="#1a1a1a" text-anchor="middle" stroke="#1a1a1a" stroke-width="0.15">CD8MMR</text>
<text transform="translate(96.00,31.10) scale(0.915,1)" font-size="9.7" fill="#1a1a1a" text-anchor="middle" font-style="italic" stroke="#1a1a1a" stroke-width="0.15">n</text>
<text transform="translate(122.75,31.10) scale(0.915,1)" font-size="9.7" fill="#1a1a1a" text-anchor="middle" stroke="#1a1a1a" stroke-width="0.15">Event</text>
<text transform="translate(158.00,31.10) scale(0.915,1)" font-size="9.7" fill="#1a1a1a" text-anchor="middle" stroke="#1a1a1a" stroke-width="0.15">mPFS</text>
<text transform="translate(207.00,31.10) scale(0.915,1)" font-size="9.7" fill="#1a1a1a" text-anchor="middle" stroke="#1a1a1a" stroke-width="0.15">2Y PFS rate</text>
<rect x="44.3" y="36.9" width="189.5" height="1.3" fill="#111"/>
<rect x="44.3" y="44.1" width="6.0" height="6.0" fill="#1b446f" stroke="#123456" stroke-width="0.6"/>
<text transform="translate(68.30,50.00) scale(0.915,1)" font-size="9.7" fill="#2c5585" text-anchor="middle"><tspan fill="#7f95b0">≥</tspan> 3.56</text>
<text transform="translate(96.00,50.00) scale(0.915,1)" font-size="9.7" fill="#2c5585" text-anchor="middle">63</text>
<text transform="translate(122.75,50.00) scale(0.915,1)" font-size="9.7" fill="#2c5585" text-anchor="middle">11</text>
<text transform="translate(158.00,50.00) scale(0.915,1)" font-size="9.7" fill="#2c5585" text-anchor="middle">NR</text>
<text transform="translate(207.00,50.00) scale(0.915,1)" font-size="9.7" fill="#2c5585" text-anchor="middle">81.8%</text>
<rect x="44.3" y="59.0" width="6.0" height="5.4" fill="#3a9c42" stroke="#2c7a30" stroke-width="0.6"/>
<text transform="translate(68.30,64.60) scale(0.915,1)" font-size="9.7" fill="#4a9c50" text-anchor="middle"><tspan fill="#8fbf92">&lt;</tspan> 3.56</text>
<text transform="translate(96.00,64.60) scale(0.915,1)" font-size="9.7" fill="#4a9c50" text-anchor="middle">57</text>
<text transform="translate(122.75,64.60) scale(0.915,1)" font-size="9.7" fill="#4a9c50" text-anchor="middle">29</text>
<text transform="translate(158.00,64.60) scale(0.915,1)" font-size="9.7" fill="#4a9c50" text-anchor="middle">20.84 M</text>
<text transform="translate(207.00,64.60) scale(0.915,1)" font-size="9.7" fill="#4a9c50" text-anchor="middle">49.6%</text>
<path d="M53.1 72 V246.6 M48.6 245.65 H233.6" stroke="#000" stroke-width="1.9" fill="none"/>
<text transform="translate(43.80,248.85) scale(0.97,1)" font-size="9.0" fill="#1a1a1a" text-anchor="end" stroke="#1a1a1a" stroke-width="0.15">0</text>
<text transform="translate(43.80,214.95) scale(0.97,1)" font-size="9.0" fill="#1a1a1a" text-anchor="end" stroke="#1a1a1a" stroke-width="0.15">20</text>
<text transform="translate(43.80,181.05) scale(0.97,1)" font-size="9.0" fill="#1a1a1a" text-anchor="end" stroke="#1a1a1a" stroke-width="0.15">40</text>
<text transform="translate(43.80,147.15) scale(0.97,1)" font-size="9.0" fill="#1a1a1a" text-anchor="end" stroke="#1a1a1a" stroke-width="0.15">60</text>
<text transform="translate(43.80,113.25) scale(0.97,1)" font-size="9.0" fill="#1a1a1a" text-anchor="end" stroke="#1a1a1a" stroke-width="0.15">80</text>
<text transform="translate(43.80,79.35) scale(0.97,1)" font-size="9.0" fill="#1a1a1a" text-anchor="end" stroke="#1a1a1a" stroke-width="0.15">100</text>
<text x="56.30" y="262.60" font-size="9.8" fill="#1a1a1a" text-anchor="middle" stroke="#1a1a1a" stroke-width="0.15">0</text>
<text x="85.10" y="262.60" font-size="9.8" fill="#1a1a1a" text-anchor="middle" stroke="#1a1a1a" stroke-width="0.15">12</text>
<text x="113.90" y="262.60" font-size="9.8" fill="#1a1a1a" text-anchor="middle" stroke="#1a1a1a" stroke-width="0.15">24</text>
<text x="142.70" y="262.60" font-size="9.8" fill="#1a1a1a" text-anchor="middle" stroke="#1a1a1a" stroke-width="0.15">36</text>
<text x="171.50" y="262.60" font-size="9.8" fill="#1a1a1a" text-anchor="middle" stroke="#1a1a1a" stroke-width="0.15">48</text>
<text x="200.30" y="262.60" font-size="9.8" fill="#1a1a1a" text-anchor="middle" stroke="#1a1a1a" stroke-width="0.15">60</text>
<text x="229.10" y="262.60" font-size="9.8" fill="#1a1a1a" text-anchor="middle" stroke="#1a1a1a" stroke-width="0.15">72</text>
<path d="M48.6 245.65 H53.1 M48.6 211.75 H53.1 M48.6 177.85 H53.1 M48.6 143.95 H53.1 M48.6 110.05 H53.1 M48.6 76.15 H53.1 M56.30 245.7 V250.5 M85.10 245.7 V250.5 M113.90 245.7 V250.5 M142.70 245.7 V250.5 M171.50 245.7 V250.5 M200.30 245.7 V250.5 M229.10 245.7 V250.5" stroke="#000" stroke-width="1.6" fill="none"/>
<text transform="translate(19.6,159.5) rotate(-90)" font-size="10.8" text-anchor="middle" textLength="127" lengthAdjust="spacingAndGlyphs" fill="#1a1a1a" stroke="#1a1a1a" stroke-width="0.2">Progression-free survival rate (%)</text>
<text x="64.5" y="280.1" font-size="11.8" textLength="123.2" lengthAdjust="spacingAndGlyphs" fill="#000" stroke="#000" stroke-width="0.3">Months after diagnosis of DLBCL</text>
<polyline transform="translate(0,0.7)" points="56.30,75.70 57.00,75.70 57.00,86.80 60.20,86.80 60.20,92.60 62.60,92.60 62.60,104.90 64.50,104.90 64.50,111.50 66.30,111.50 66.30,118.40 67.20,118.40 67.20,124.00 68.10,124.00 68.10,128.50 71.00,128.50 71.00,130.20 73.80,130.20 73.80,131.90 76.10,131.90 76.10,137.70 76.70,137.70 76.70,143.40 79.00,143.40 79.00,145.80 81.30,145.80 81.30,148.10 81.30,148.10 81.30,153.50 97.80,153.50 97.80,156.90 105.20,156.90 105.20,160.50 122.00,160.50 122.00,166.30 209.30,166.30" fill="none" stroke="#3a9c42" stroke-width="1.9" stroke-linejoin="miter"/>
<path d="M90.0 151.9v4.6 M113.8 158.9v4.6 M116.2 158.9v4.6 M118.8 158.9v4.6 M125.0 164.7v4.6 M127.5 164.7v4.6 M131.2 164.7v4.6 M137.5 164.7v4.6 M140.0 164.7v4.6 M156.2 164.7v4.6 M158.8 164.7v4.6 M162.5 164.7v4.6 M163.8 164.7v4.6 M202.5 164.7v4.6 M205.0 164.7v4.6 M207.5 164.7v4.6" stroke="#3a9c42" stroke-width="1.1"/>
<polyline transform="translate(0,0.7)" points="56.30,75.70 61.10,75.70 61.10,77.20 68.80,77.20 68.80,79.50 70.70,79.50 70.70,81.00 72.20,81.00 72.20,83.70 73.80,83.70 73.80,85.30 75.30,85.30 75.30,86.00 77.60,86.00 77.60,88.00 79.50,88.00 79.50,90.30 81.10,90.30 81.10,92.60 82.20,92.60 82.20,94.10 84.50,94.10 84.50,94.90 86.80,94.90 86.80,96.00 89.50,96.00 89.50,97.20 91.50,97.20 91.50,100.30 98.60,100.30 98.60,103.20 107.20,103.20 107.20,105.90 215.70,105.90" fill="none" stroke="#1b446f" stroke-width="1.9" stroke-linejoin="miter"/>
<path d="M106.1 101.6v4.6 M115.0 104.3v4.6 M117.5 104.3v4.6 M120.0 104.3v4.6 M122.5 104.3v4.6 M125.0 104.3v4.6 M127.5 104.3v4.6 M131.2 104.3v4.6 M143.8 104.3v4.6 M145.0 104.3v4.6 M146.2 104.3v4.6 M152.5 104.3v4.6 M160.0 104.3v4.6 M165.0 104.3v4.6 M167.5 104.3v4.6 M168.8 104.3v4.6 M175.0 104.3v4.6 M176.2 104.3v4.6 M177.5 104.3v4.6 M178.8 104.3v4.6 M180.0 104.3v4.6 M181.2 104.3v4.6 M182.5 104.3v4.6 M188.8 104.3v4.6 M191.2 104.3v4.6 M193.8 104.3v4.6 M196.2 104.3v4.6 M200.0 104.3v4.6 M203.8 104.3v4.6 M206.2 104.3v4.6 M207.5 104.3v4.6 M210.0 104.3v4.6 M213.8 104.3v4.6" stroke="#1b446f" stroke-width="1.1"/>
<text transform="translate(143.0,193.0) scale(0.95,1)" font-size="9.3" text-anchor="middle" fill="#b8385a"><tspan font-style="italic">P</tspan> &lt; .001</text>
<text transform="translate(143.00,204.00) scale(0.975,1)" font-size="9.0" fill="#b8385a" text-anchor="middle">(log-rank test)</text>
<text x="58.2" y="239.5" font-size="9.3" textLength="184.5" lengthAdjust="spacingAndGlyphs" fill="#b8385a">HR = 4.114 (95% CI: 2.048-8.262), <tspan font-style="italic">P</tspan> &lt; .001</text>
<text transform="translate(44.30,289.80) scale(0.93,1)" font-size="9.9" fill="#111" text-anchor="end" stroke="#111" stroke-width="0.15">CD8MMR</text>
<text transform="translate(44.20,304.40) scale(0.95,1)" font-size="9.5" fill="#2c5585" text-anchor="end"><tspan fill="#7f95b0">≥</tspan> 3.56</text>
<text x="57.00" y="304.40" font-size="9.8" fill="#2c5585" text-anchor="middle">63</text>
<text x="85.80" y="304.40" font-size="9.8" fill="#2c5585" text-anchor="middle">54</text>
<text x="114.60" y="304.40" font-size="9.8" fill="#2c5585" text-anchor="middle">45</text>
<text x="143.40" y="304.40" font-size="9.8" fill="#2c5585" text-anchor="middle">39</text>
<text x="172.20" y="304.40" font-size="9.8" fill="#2c5585" text-anchor="middle">27</text>
<text x="201.00" y="304.40" font-size="9.8" fill="#2c5585" text-anchor="middle">8</text>
<text transform="translate(44.20,319.10) scale(0.95,1)" font-size="9.5" fill="#4a9c50" text-anchor="end"><tspan fill="#8fbf92">&lt;</tspan> 3.56</text>
<text x="57.00" y="319.10" font-size="9.8" fill="#4a9c50" text-anchor="middle">57</text>
<text x="85.80" y="319.10" font-size="9.8" fill="#4a9c50" text-anchor="middle">29</text>
<text x="114.60" y="319.10" font-size="9.8" fill="#4a9c50" text-anchor="middle">19</text>
<text x="143.40" y="319.10" font-size="9.8" fill="#4a9c50" text-anchor="middle">7</text>
<text x="172.20" y="319.10" font-size="9.8" fill="#4a9c50" text-anchor="middle">3</text>
<text x="201.00" y="319.10" font-size="9.8" fill="#4a9c50" text-anchor="middle">3</text>
</g>
<g transform="translate(268.20,659.80)">
<text transform="translate(10.30,23.90) scale(0.9,1)" font-size="17.4" fill="#000" font-weight="bold" stroke="#000" stroke-width="0.55">F</text>
<text transform="translate(68.40,31.10) scale(0.97,1)" font-size="9.7" fill="#1a1a1a" text-anchor="middle" stroke="#1a1a1a" stroke-width="0.15">CD8MMR</text>
<text transform="translate(96.00,31.10) scale(0.915,1)" font-size="9.7" fill="#1a1a1a" text-anchor="middle" font-style="italic" stroke="#1a1a1a" stroke-width="0.15">n</text>
<text transform="translate(122.75,31.10) scale(0.915,1)" font-size="9.7" fill="#1a1a1a" text-anchor="middle" stroke="#1a1a1a" stroke-width="0.15">Event</text>
<text transform="translate(158.00,31.10) scale(0.915,1)" font-size="9.7" fill="#1a1a1a" text-anchor="middle" stroke="#1a1a1a" stroke-width="0.15">mPFS</text>
<text transform="translate(207.00,31.10) scale(0.915,1)" font-size="9.7" fill="#1a1a1a" text-anchor="middle" stroke="#1a1a1a" stroke-width="0.15">2Y OS rate</text>
<rect x="44.3" y="36.9" width="189.5" height="1.3" fill="#111"/>
<rect x="44.3" y="44.1" width="6.0" height="6.0" fill="#1b446f" stroke="#123456" stroke-width="0.6"/>
<text transform="translate(68.30,50.00) scale(0.915,1)" font-size="9.7" fill="#2c5585" text-anchor="middle"><tspan fill="#7f95b0">≥</tspan> 3.56</text>
<text transform="translate(96.00,50.00) scale(0.915,1)" font-size="9.7" fill="#2c5585" text-anchor="middle">63</text>
<text transform="translate(122.75,50.00) scale(0.915,1)" font-size="9.7" fill="#2c5585" text-anchor="middle">9</text>
<text transform="translate(158.00,50.00) scale(0.915,1)" font-size="9.7" fill="#2c5585" text-anchor="middle">NR</text>
<text transform="translate(207.00,50.00) scale(0.915,1)" font-size="9.7" fill="#2c5585" text-anchor="middle">90.1%</text>
<rect x="44.3" y="59.0" width="6.0" height="5.4" fill="#3a9c42" stroke="#2c7a30" stroke-width="0.6"/>
<text transform="translate(68.30,64.60) scale(0.915,1)" font-size="9.7" fill="#4a9c50" text-anchor="middle"><tspan fill="#8fbf92">&lt;</tspan> 3.56</text>
<text transform="translate(96.00,64.60) scale(0.915,1)" font-size="9.7" fill="#4a9c50" text-anchor="middle">57</text>
<text transform="translate(122.75,64.60) scale(0.915,1)" font-size="9.7" fill="#4a9c50" text-anchor="middle">23</text>
<text transform="translate(158.00,64.60) scale(0.915,1)" font-size="9.7" fill="#4a9c50" text-anchor="middle">NR</text>
<text transform="translate(207.00,64.60) scale(0.915,1)" font-size="9.7" fill="#4a9c50" text-anchor="middle">59.5%</text>
<path d="M53.1 72 V246.6 M48.6 245.65 H233.6" stroke="#000" stroke-width="1.9" fill="none"/>
<text transform="translate(43.80,248.85) scale(0.97,1)" font-size="9.0" fill="#1a1a1a" text-anchor="end" stroke="#1a1a1a" stroke-width="0.15">0</text>
<text transform="translate(43.80,214.95) scale(0.97,1)" font-size="9.0" fill="#1a1a1a" text-anchor="end" stroke="#1a1a1a" stroke-width="0.15">20</text>
<text transform="translate(43.80,181.05) scale(0.97,1)" font-size="9.0" fill="#1a1a1a" text-anchor="end" stroke="#1a1a1a" stroke-width="0.15">40</text>
<text transform="translate(43.80,147.15) scale(0.97,1)" font-size="9.0" fill="#1a1a1a" text-anchor="end" stroke="#1a1a1a" stroke-width="0.15">60</text>
<text transform="translate(43.80,113.25) scale(0.97,1)" font-size="9.0" fill="#1a1a1a" text-anchor="end" stroke="#1a1a1a" stroke-width="0.15">80</text>
<text transform="translate(43.80,79.35) scale(0.97,1)" font-size="9.0" fill="#1a1a1a" text-anchor="end" stroke="#1a1a1a" stroke-width="0.15">100</text>
<text x="56.90" y="262.60" font-size="9.8" fill="#1a1a1a" text-anchor="middle" stroke="#1a1a1a" stroke-width="0.15">0</text>
<text x="85.70" y="262.60" font-size="9.8" fill="#1a1a1a" text-anchor="middle" stroke="#1a1a1a" stroke-width="0.15">12</text>
<text x="114.50" y="262.60" font-size="9.8" fill="#1a1a1a" text-anchor="middle" stroke="#1a1a1a" stroke-width="0.15">24</text>
<text x="143.30" y="262.60" font-size="9.8" fill="#1a1a1a" text-anchor="middle" stroke="#1a1a1a" stroke-width="0.15">36</text>
<text x="172.10" y="262.60" font-size="9.8" fill="#1a1a1a" text-anchor="middle" stroke="#1a1a1a" stroke-width="0.15">48</text>
<text x="200.90" y="262.60" font-size="9.8" fill="#1a1a1a" text-anchor="middle" stroke="#1a1a1a" stroke-width="0.15">60</text>
<text x="229.70" y="262.60" font-size="9.8" fill="#1a1a1a" text-anchor="middle" stroke="#1a1a1a" stroke-width="0.15">72</text>
<path d="M48.6 245.65 H53.1 M48.6 211.75 H53.1 M48.6 177.85 H53.1 M48.6 143.95 H53.1 M48.6 110.05 H53.1 M48.6 76.15 H53.1 M56.90 245.7 V250.5 M85.70 245.7 V250.5 M114.50 245.7 V250.5 M143.30 245.7 V250.5 M172.10 245.7 V250.5 M200.90 245.7 V250.5 M229.70 245.7 V250.5" stroke="#000" stroke-width="1.6" fill="none"/>
<text transform="translate(20.0,158.9) rotate(-90)" font-size="10.8" text-anchor="middle" textLength="92" lengthAdjust="spacingAndGlyphs" fill="#1a1a1a" stroke="#1a1a1a" stroke-width="0.2">Overall survival rate (%)</text>
<polyline transform="translate(0,0.7)" points="56.80,75.70 56.30,87.30 60.90,87.30 60.90,90.20 63.20,90.20 63.20,96.50 66.60,96.50 66.60,97.70 67.80,97.70 67.80,102.30 70.70,102.30 70.70,103.40 72.40,103.40 72.40,110.40 75.90,110.40 75.90,111.50 79.30,111.50 79.30,112.10 80.50,112.10 80.50,117.30 81.60,117.30 81.60,121.30 82.00,121.30 82.00,126.90 83.10,126.90 83.10,129.80 89.50,129.80 89.50,132.70 91.20,132.70 91.20,136.10 100.40,136.10 100.40,140.80 101.60,140.80 101.60,144.20 135.60,144.20 135.60,151.10 208.80,151.10" fill="none" stroke="#3a9c42" stroke-width="1.9" stroke-linejoin="miter"/>
<path d="M97.6 134.5v4.6 M104.5 142.6v4.6 M112.6 142.6v4.6 M114.0 142.6v4.6 M115.5 142.6v4.6 M117.2 142.6v4.6 M122.9 142.6v4.6 M127.0 142.6v4.6 M131.6 142.6v4.6 M143.1 149.5v4.6 M146.8 149.5v4.6 M149.3 149.5v4.6 M151.8 149.5v4.6 M155.6 149.5v4.6 M164.3 149.5v4.6 M170.6 149.5v4.6 M174.3 149.5v4.6 M176.8 149.5v4.6 M204.3 149.5v4.6 M206.8 149.5v4.6 M209.3 149.5v4.6" stroke="#3a9c42" stroke-width="1.1"/>
<polyline transform="translate(0,0.7)" points="56.80,75.70 67.80,75.70 67.80,78.30 74.10,78.30 74.10,81.50 75.30,81.50 75.30,84.40 81.10,84.40 81.10,86.70 86.20,86.70 86.20,89.40 107.60,89.40 107.60,92.20 114.30,92.20 114.30,97.80 130.00,97.80 130.00,101.80 214.30,101.80" fill="none" stroke="#1b446f" stroke-width="1.9" stroke-linejoin="miter"/>
<path d="M71.3 76.7v4.6 M73.0 76.7v4.6 M90.9 87.8v4.6 M105.6 87.8v4.6 M118.0 96.2v4.6 M120.5 96.2v4.6 M123.0 96.2v4.6 M125.5 96.2v4.6 M128.1 96.2v4.6 M131.8 100.2v4.6 M135.6 100.2v4.6 M143.1 100.2v4.6 M145.6 100.2v4.6 M148.1 100.2v4.6 M153.1 100.2v4.6 M160.6 100.2v4.6 M163.1 100.2v4.6 M166.8 100.2v4.6 M169.3 100.2v4.6 M175.6 100.2v4.6 M176.8 100.2v4.6 M178.1 100.2v4.6 M179.3 100.2v4.6 M181.8 100.2v4.6 M183.1 100.2v4.6 M184.3 100.2v4.6 M190.6 100.2v4.6 M193.1 100.2v4.6 M195.6 100.2v4.6 M198.1 100.2v4.6 M201.8 100.2v4.6 M205.6 100.2v4.6 M208.1 100.2v4.6 M209.3 100.2v4.6 M214.3 100.2v4.6" stroke="#1b446f" stroke-width="1.1"/>
<text transform="translate(143.0,193.0) scale(0.95,1)" font-size="9.3" text-anchor="middle" fill="#b8385a"><tspan font-style="italic">P</tspan> &lt; .001</text>
<text transform="translate(143.00,204.00) scale(0.975,1)" font-size="9.0" fill="#b8385a" text-anchor="middle">(log-rank test)</text>
<text x="58.2" y="239.5" font-size="9.3" textLength="184.5" lengthAdjust="spacingAndGlyphs" fill="#b8385a">HR = 3.850 (95% CI: 1.772-8.364), <tspan font-style="italic">P</tspan> = .001</text>
<text transform="translate(44.30,289.80) scale(0.93,1)" font-size="9.9" fill="#111" text-anchor="end" stroke="#111" stroke-width="0.15">CD8MMR</text>
<text transform="translate(44.20,304.40) scale(0.95,1)" font-size="9.5" fill="#2c5585" text-anchor="end"><tspan fill="#7f95b0">≥</tspan> 3.56</text>
<text x="57.60" y="304.40" font-size="9.8" fill="#2c5585" text-anchor="middle">63</text>
<text x="86.40" y="304.40" font-size="9.8" fill="#2c5585" text-anchor="middle">57</text>
<text x="115.20" y="304.40" font-size="9.8" fill="#2c5585" text-anchor="middle">50</text>
<text x="144.00" y="304.40" font-size="9.8" fill="#2c5585" text-anchor="middle">40</text>
<text x="172.80" y="304.40" font-size="9.8" fill="#2c5585" text-anchor="middle">28</text>
<text x="201.60" y="304.40" font-size="9.8" fill="#2c5585" text-anchor="middle">8</text>
<text transform="translate(44.20,319.10) scale(0.95,1)" font-size="9.5" fill="#4a9c50" text-anchor="end"><tspan fill="#8fbf92">&lt;</tspan> 3.56</text>
<text x="57.60" y="319.10" font-size="9.8" fill="#4a9c50" text-anchor="middle">57</text>
<text x="86.40" y="319.10" font-size="9.8" fill="#4a9c50" text-anchor="middle">37</text>
<text x="115.20" y="319.10" font-size="9.8" fill="#4a9c50" text-anchor="middle">23</text>
<text x="144.00" y="319.10" font-size="9.8" fill="#4a9c50" text-anchor="middle">9</text>
<text x="172.80" y="319.10" font-size="9.8" fill="#4a9c50" text-anchor="middle">3</text>
<text x="201.60" y="319.10" font-size="9.8" fill="#4a9c50" text-anchor="middle">3</text>
</g>
<rect x="0.5" y="0.5" width="519" height="990" fill="none" stroke="#111" stroke-width="1.1"/>
</svg>
</body></html>
